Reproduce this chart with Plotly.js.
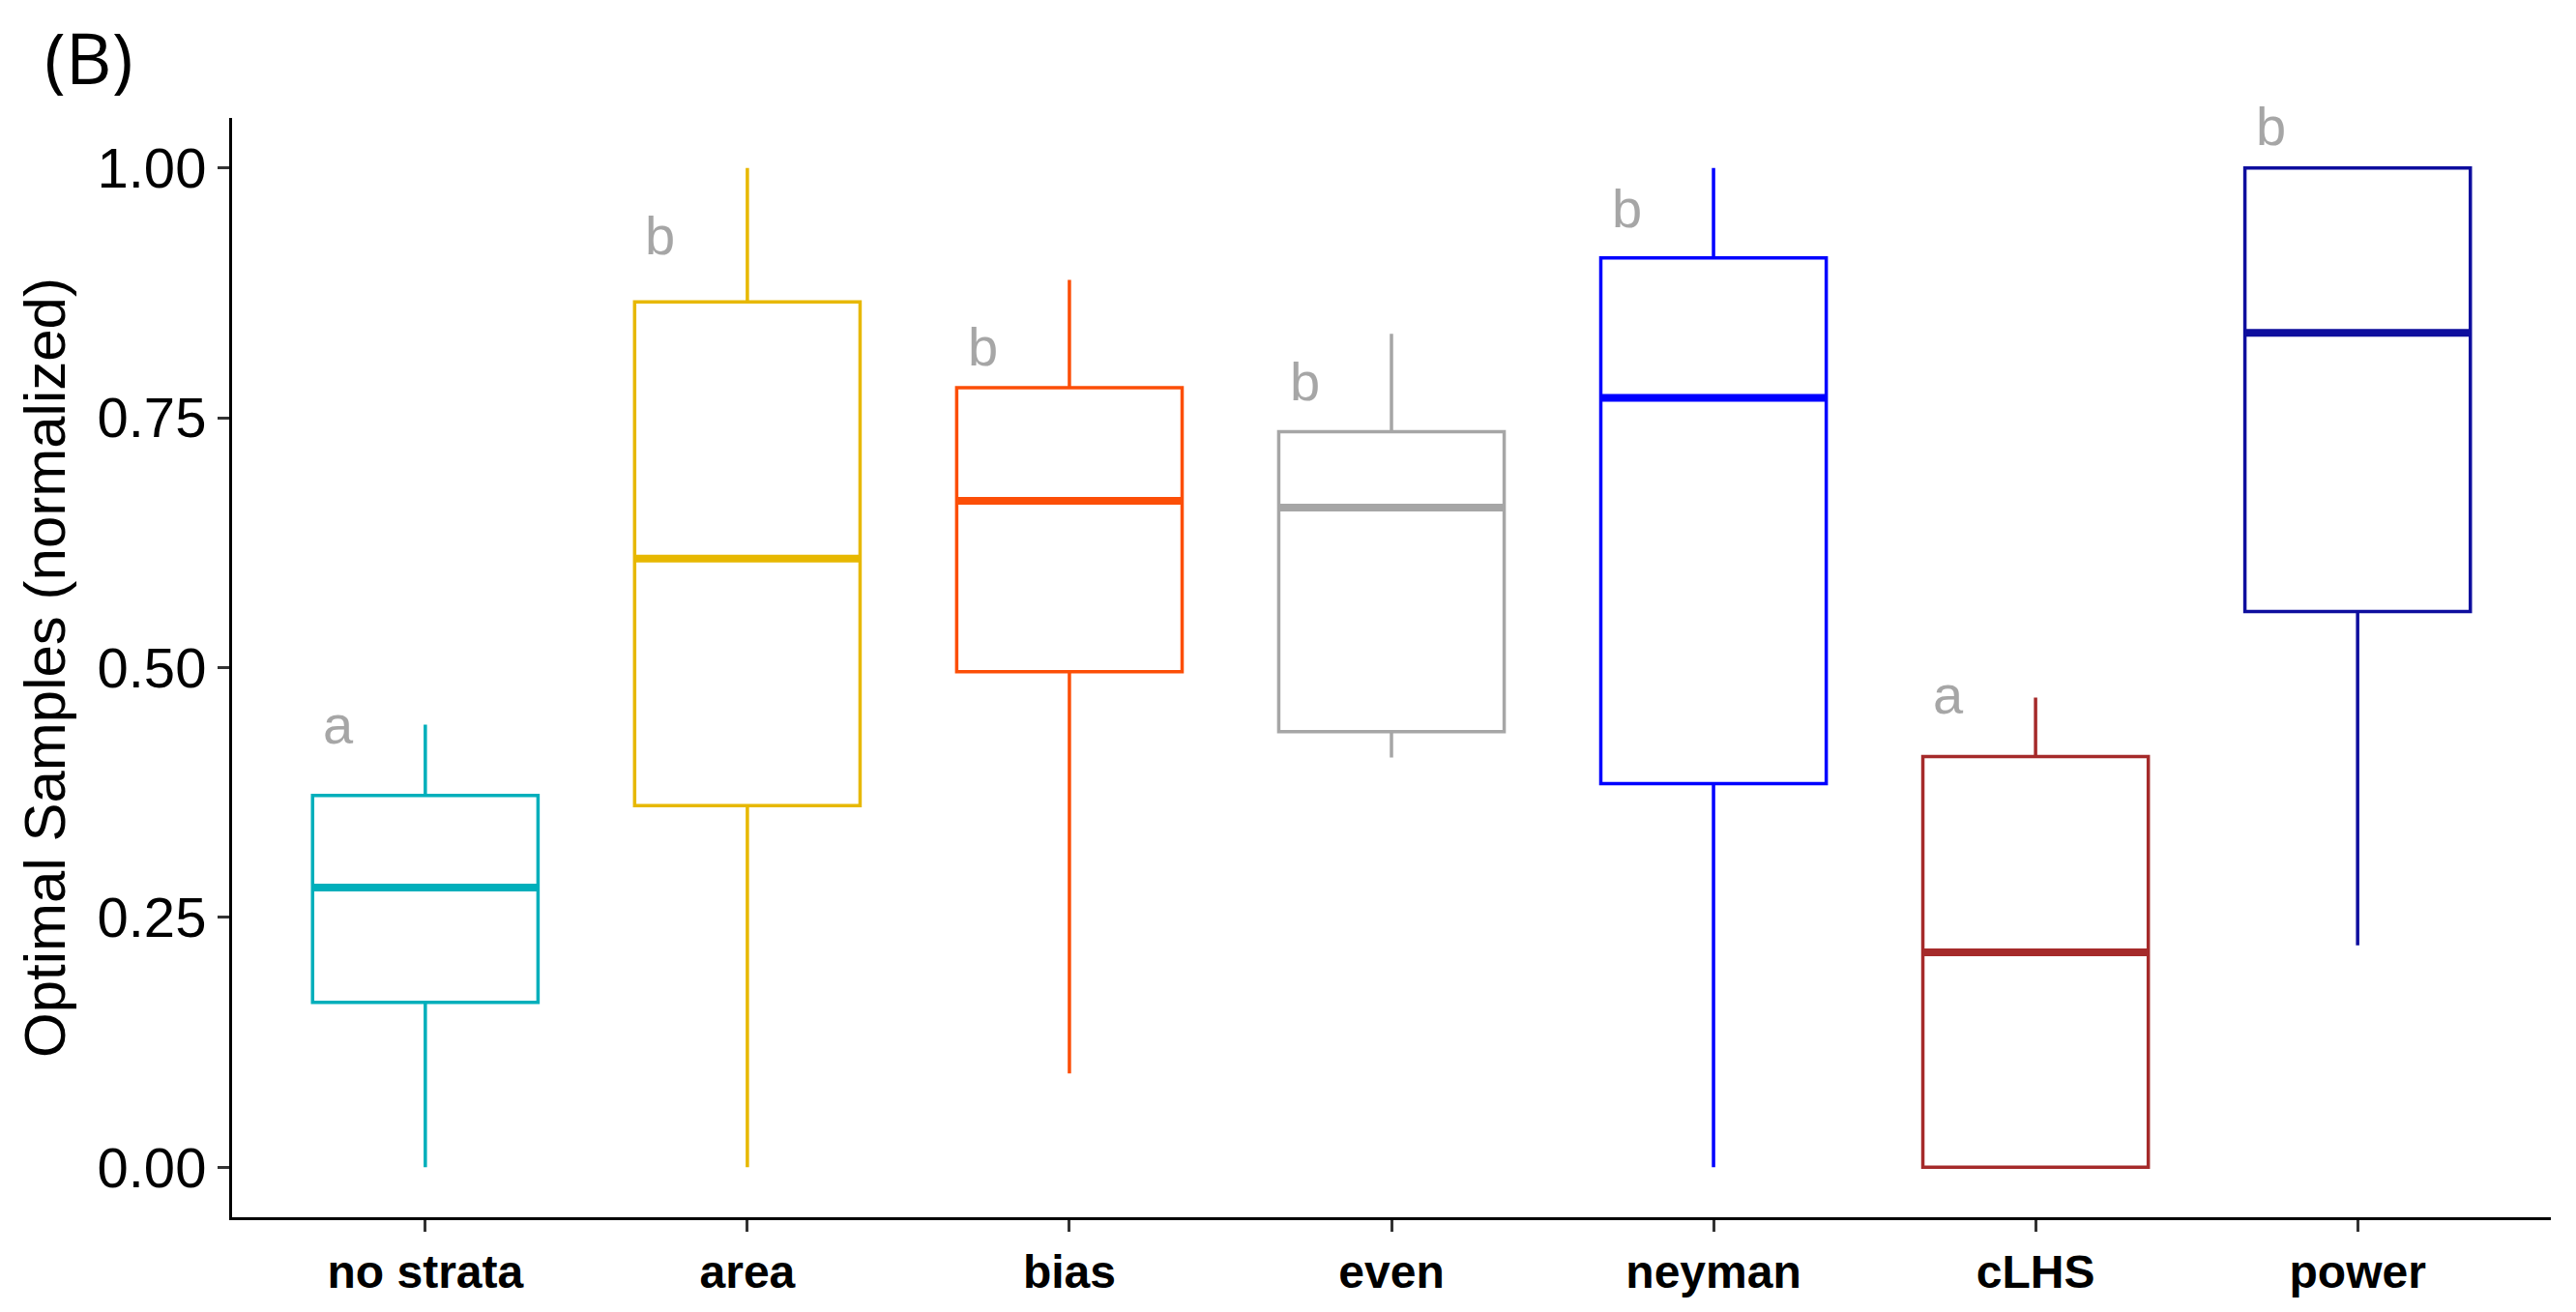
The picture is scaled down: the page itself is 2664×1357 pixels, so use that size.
<!DOCTYPE html>
<html>
<head>
<meta charset="utf-8">
<script src="https://cdn.plot.ly/plotly-3.0.1.min.js"></script>
<style>
  html, body { margin: 0; padding: 0; background: #fff; }
  #plot { width: 2664px; height: 1357px; }
</style>
</head>
<body>
<div id="plot"></div>
<script>
// methods compared
var methods = ["no strata", "area", "bias", "even", "neyman", "cLHS", "power"];

// box stats (normalized optimal samples)
var lowerFence = [0.000, 0.000, 0.094, 0.410, 0.000, 0.000, 0.222];
var q1 =         [0.165, 0.362, 0.496, 0.436, 0.384, 0.000, 0.556];
var medians =    [0.280, 0.609, 0.667, 0.660, 0.770, 0.215, 0.835];
var q3 =         [0.372, 0.866, 0.780, 0.736, 0.910, 0.411, 1.000];
var upperFence = [0.443, 1.000, 0.888, 0.834, 1.000, 0.470, 1.000];

// significance letters and where they sit
var letters = ["a", "b", "b", "b", "b", "a", "b"];
var letterY = [0.443, 0.932, 0.821, 0.786, 0.960, 0.473, 1.042];

var colors = ["#00AFBB", "#E7B800", "#FC4E07", "#A6A6A6", "#0000FF", "#A52A2A", "#0E0E9E"];

var boxWidth = 0.7;
var data = [];

methods.forEach(function (m, i) {
  data.push({
    type: 'box',
    name: m,
    x: [i],
    q1: [q1[i]],
    median: [medians[i]],
    q3: [q3[i]],
    lowerfence: [lowerFence[i]],
    upperfence: [upperFence[i]],
    width: boxWidth,
    whiskerwidth: 0,
    boxpoints: false,
    fillcolor: 'rgba(255,255,255,0)',
    line: {color: colors[i], width: 3.5},
    hoverinfo: 'skip'
  });
});

// thicker median bars like ggplot
methods.forEach(function (m, i) {
  data.push({
    type: 'scatter',
    mode: 'lines',
    x: [i - boxWidth / 2, i + boxWidth / 2],
    y: [medians[i], medians[i]],
    line: {color: colors[i], width: 8},
    hoverinfo: 'skip'
  });
});

var annotations = letters.map(function (l, i) {
  return {
    x: i - 0.27, y: letterY[i], xref: 'x', yref: 'y',
    text: l, showarrow: false,
    font: {family: 'Liberation Sans, Arial', size: 56, color: '#A6A6A6'}
  };
});

annotations.push({
  x: -0.062, y: 1.056, xref: 'paper', yref: 'paper',
  xanchor: 'center', yanchor: 'middle',
  text: '(B)', showarrow: false,
  font: {family: 'Open Sans', size: 74, color: '#000'}
});

var layout = {
  width: 2664,
  height: 1357,
  showlegend: false,
  paper_bgcolor: '#fff',
  plot_bgcolor: '#fff',
  margin: {l: 240, r: 26, t: 122, b: 98},
  xaxis: {
    range: [-0.6, 6.6],
    tickvals: [0, 1, 2, 3, 4, 5, 6],
    ticktext: methods,
    showgrid: false,
    zeroline: false,
    showline: true,
    linecolor: '#000',
    linewidth: 3,
    ticks: 'outside',
    ticklen: 12,
    tickwidth: 3,
    tickcolor: '#333',
    tickfont: {family: 'Liberation Sans, Arial', size: 48, color: '#000', weight: 'bold'},
    fixedrange: true
  },
  yaxis: {
    range: [-0.05, 1.05],
    tickvals: [0, 0.25, 0.5, 0.75, 1],
    ticktext: ['0.00', '0.25', '0.50', '0.75', '1.00'],
    showgrid: false,
    zeroline: false,
    showline: true,
    linecolor: '#000',
    linewidth: 3,
    ticks: 'outside',
    ticklen: 12,
    tickwidth: 3,
    tickcolor: '#333',
    tickfont: {family: 'Liberation Sans, Arial', size: 58, color: '#000'},
    title: {
      text: 'Optimal Samples (normalized)',
      font: {family: 'Liberation Sans, Arial', size: 60, color: '#000'},
      standoff: 14
    },
    fixedrange: true
  },
  annotations: annotations
};

Plotly.newPlot('plot', data, layout, {displayModeBar: false, staticPlot: true});
</script>
</body>
</html>
